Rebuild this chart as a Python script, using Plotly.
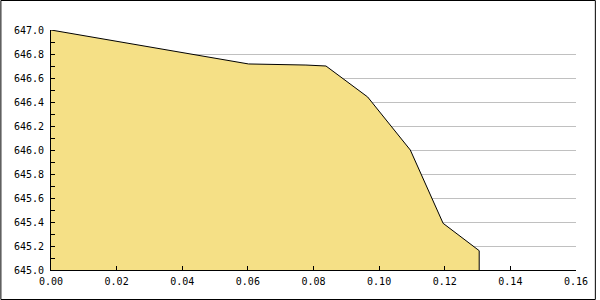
import plotly.graph_objects as go

x_vals = [0.0, 0.0602, 0.0777, 0.0838, 0.0965, 0.1095, 0.1195, 0.1305, 0.1305]
y_vals = [647.0, 646.717, 646.708, 646.70, 646.442, 646.0, 645.389, 645.161, 645.0]

W, H = 600, 300
L, R, T, B = 51, 20, 30, 30
pw, ph = W - L - R, H - T - B

fig = go.Figure()
fig.add_trace(go.Scatter(
    x=x_vals, y=y_vals, mode="lines", fill="tozeroy",
    fillcolor="#F5E086", line=dict(color="black", width=1),
    hoverinfo="skip", showlegend=False,
))

font = dict(family="DejaVu Sans Mono", size=10, color="black")
fig.update_layout(
    width=W, height=H,
    margin=dict(l=L, r=R, t=T, b=B, pad=0),
    paper_bgcolor="white", plot_bgcolor="white",
    font=font,
    xaxis=dict(
        range=[0, 0.16], dtick=0.02, tick0=0, tickformat=".2f",
        showgrid=False, zeroline=False, showline=True, linecolor="black", linewidth=1,
        ticks="inside", ticklen=4, tickcolor="black", tickfont=font,
        ticklabelstandoff=2,
        layer="above traces",
    ),
    yaxis=dict(
        range=[645.0, 647.0], dtick=0.2, tick0=645.0, tickformat=".1f",
        showgrid=True, gridcolor="#C0C0C0", gridwidth=1, zeroline=False,
        showline=True, linecolor="black", linewidth=1,
        ticks="inside", ticklen=4, tickcolor="black", tickfont=font,
        ticklabelstandoff=4,
        minor=dict(dtick=0.1, ticks="inside", ticklen=4, tickcolor="black", showgrid=False),
        layer="above traces",
    ),
    shapes=[dict(
        type="rect", xref="paper", yref="paper",
        x0=(0.5 - L) / pw, x1=(W - 0.5 - L) / pw,
        y0=(H - B - (H - 0.5)) / ph, y1=(H - B - 0.5) / ph,
        line=dict(color="black", width=1), fillcolor="rgba(0,0,0,0)",
    )],
)

fig.write_html(
    "out.html",
    config={"displayModeBar": False},
    post_script="document.body.style.margin='0';document.body.style.overflow='hidden';",
)
